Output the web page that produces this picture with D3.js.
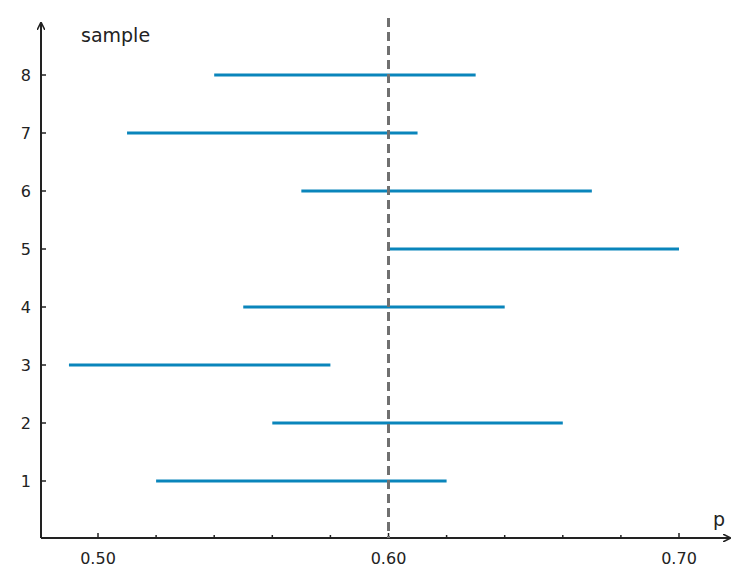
<!DOCTYPE html>
<html><head><meta charset="UTF-8">
<script src="https://d3js.org/d3.v7.min.js"></script>
<style>body{margin:0;background:#fff;font-family:"DejaVu Sans",sans-serif}</style>
</head><body><svg id="c" width="754" height="587"></svg>
<script>
const samples = [1, 2, 3, 4, 5, 6, 7, 8];
const lower = [0.52, 0.56, 0.49, 0.55, 0.60, 0.57, 0.51, 0.54];
const upper = [0.62, 0.66, 0.58, 0.64, 0.70, 0.67, 0.61, 0.63];
const majorTicks = [0.5, 0.6, 0.7];
const minorTicks = [0.52, 0.54, 0.56, 0.58, 0.62, 0.64, 0.66, 0.68];
const trueP = 0.6;

const svg = d3.select("#c");
const ox = 41, oy = 538;
const x = d3.scaleLinear().domain([0.5, 0.7]).range([98, 679]);
const y = d3.scaleLinear().domain([1, 8]).range([481, 75]);
const ink = "#222";

svg.append("defs").append("marker").attr("id", "ar")
  .attr("viewBox", "0 -5 10 10").attr("refX", 9).attr("refY", 0)
  .attr("markerWidth", 8).attr("markerHeight", 8).attr("orient", "auto")
  .attr("markerUnits", "userSpaceOnUse")
  .append("path").attr("d", "M0,-5L10,0L0,5").attr("fill", "none")
  .attr("stroke", ink).attr("stroke-width", 2);

// axes
svg.append("line").attr("x1", ox).attr("y1", oy).attr("x2", 730).attr("y2", oy)
  .attr("stroke", ink).attr("stroke-width", 2).attr("marker-end", "url(#ar)");
svg.append("line").attr("x1", ox).attr("y1", oy).attr("x2", ox).attr("y2", 23)
  .attr("stroke", ink).attr("stroke-width", 2).attr("marker-end", "url(#ar)");

svg.selectAll(".mt").data(majorTicks.concat(minorTicks)).join("line")
  .attr("x1", d => x(d)).attr("x2", d => x(d))
  .attr("y1", oy).attr("y2", d => majorTicks.includes(d) ? oy - 5 : oy - 3)
  .attr("stroke", ink).attr("stroke-width", 1.5);
svg.selectAll(".xl").data(majorTicks).join("text")
  .attr("x", d => x(d)).attr("y", 564).attr("text-anchor", "middle")
  .attr("font-size", 16).attr("fill", ink).text(d => d.toFixed(2));

svg.selectAll(".yt").data(samples).join("line")
  .attr("x1", ox).attr("x2", ox + 5).attr("y1", d => y(d)).attr("y2", d => y(d))
  .attr("stroke", ink).attr("stroke-width", 1.5);
svg.selectAll(".yl").data(samples).join("text")
  .attr("x", 31).attr("y", d => y(d) + 6).attr("text-anchor", "end")
  .attr("font-size", 16).attr("fill", ink).text(d => d);

svg.append("text").attr("x", 81).attr("y", 42).attr("font-size", 19).attr("fill", ink).text("sample");
svg.append("text").attr("x", 713).attr("y", 526).attr("font-size", 19).attr("fill", ink).text("p");

// intervals
svg.selectAll(".ci").data(samples).join("line")
  .attr("x1", (d, i) => x(lower[i])).attr("x2", (d, i) => x(upper[i]))
  .attr("y1", d => y(d)).attr("y2", d => y(d))
  .attr("stroke", "#0a85bb").attr("stroke-width", 3);

svg.append("line").attr("x1", x(trueP)).attr("x2", x(trueP)).attr("y1", 18).attr("y2", oy)
  .attr("stroke", "#707070").attr("stroke-width", 3).attr("stroke-dasharray", "9,5");
</script></body></html>
